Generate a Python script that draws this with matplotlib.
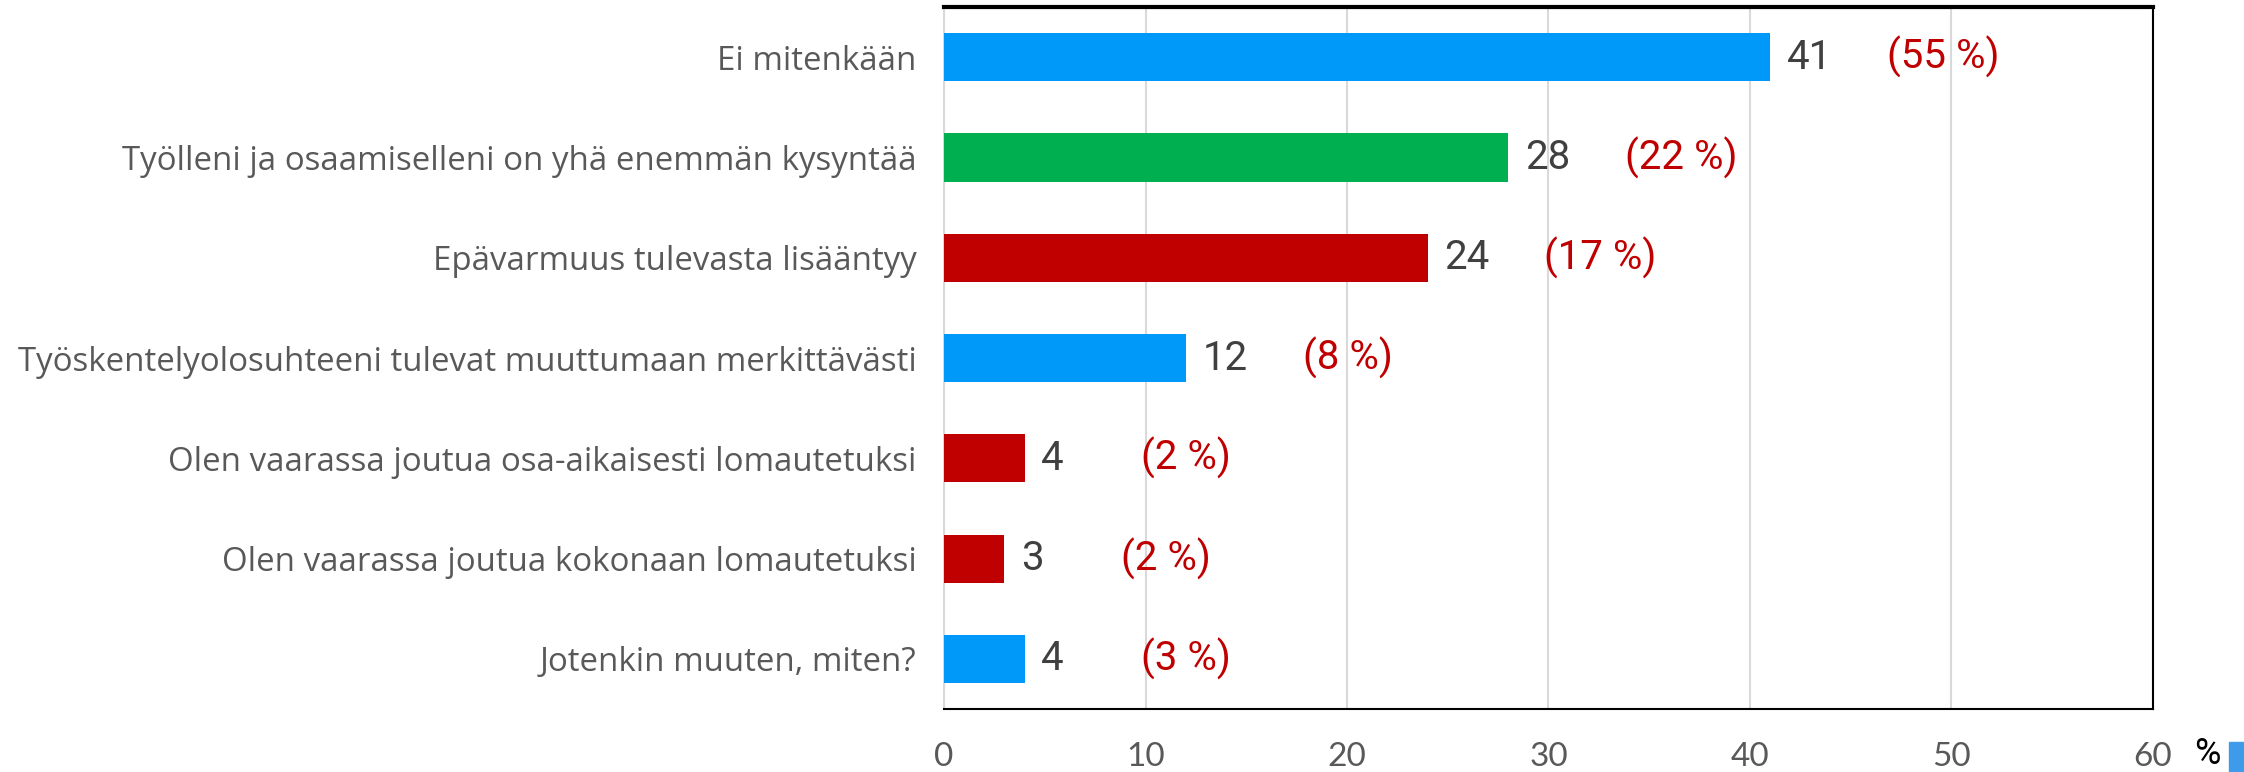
import matplotlib
matplotlib.use("Agg")
import matplotlib.pyplot as plt
from matplotlib.patches import Rectangle

# vastaukset ylhäältä alas
categories = [
    "Ei mitenkään",
    "Työlleni ja osaamiselleni on yhä enemmän kysyntää",
    "Epävarmuus tulevasta lisääntyy",
    "Työskentelyolosuhteeni tulevat muuttumaan merkittävästi",
    "Olen vaarassa joutua osa-aikaisesti lomautetuksi",
    "Olen vaarassa joutua kokonaan lomautetuksi",
    "Jotenkin muuten, miten?",
]
counts = [41, 28, 24, 12, 4, 3, 4]
percents = [55, 22, 17, 8, 2, 2, 3]
colors = ["#0099FA", "#00B050", "#C00000", "#0099FA", "#C00000", "#C00000", "#0099FA"]
xticks = [0, 10, 20, 30, 40, 50, 60]

label_font = ["Open Sans", "DejaVu Sans"]
tick_font = ["Lato", "DejaVu Sans"]
num_font = ["Roboto", "DejaVu Sans"]

fig = plt.figure(figsize=(22.44, 7.72), dpi=100)
ax = fig.add_axes([0.4207, 0.0816, 0.5387, 0.9093])

y = list(range(len(categories)))
ax.barh(y, counts, height=0.48, color=colors, zorder=3)

for i, (c, p) in enumerate(zip(counts, percents)):
    ax.annotate(str(c), (c, i), xytext=(12, 0), textcoords="offset points",
                va="center", ha="left", fontsize=29, color="#404040", family=num_font)
    ax.text(c + 5.8, i, f"({p} %)", va="center", ha="left", fontsize=29,
            color="#C00000", family=num_font)

ax.set_xlim(0, 60)
ax.set_ylim(len(categories) - 0.5, -0.5)
ax.set_yticks(y)
ax.set_yticklabels(categories, fontsize=23.8, color="#595959", family=label_font)
ax.set_xticks(xticks)
ax.set_xticklabels([str(t) for t in xticks], fontsize=24, color="#595959", family=tick_font)
ax.tick_params(axis="both", length=0)
ax.tick_params(axis="y", pad=20)
ax.tick_params(axis="x", pad=24)

ax.grid(axis="x", color="#D9D9D9", linewidth=1.5, zorder=0)
ax.spines["left"].set_color("#D9D9D9")
ax.spines["left"].set_linewidth(1.5)
ax.spines["bottom"].set_color("black")
ax.spines["bottom"].set_linewidth(1.5)
ax.spines["right"].set_color("black")
ax.spines["right"].set_linewidth(1.5)
ax.spines["top"].set_color("black")
ax.spines["top"].set_linewidth(3)

# yksikkö ja pieni sininen merkki oikeassa alakulmassa
fig.text(0.9835, 0.0, "%", fontsize=26, color="black", family=num_font, ha="center", va="bottom")
fig.patches.append(Rectangle((0.9933, 0.0), 0.0067, 0.039, transform=fig.transFigure,
                             color="#3D9BE9", figure=fig))

fig.savefig("out.png", dpi=100)
